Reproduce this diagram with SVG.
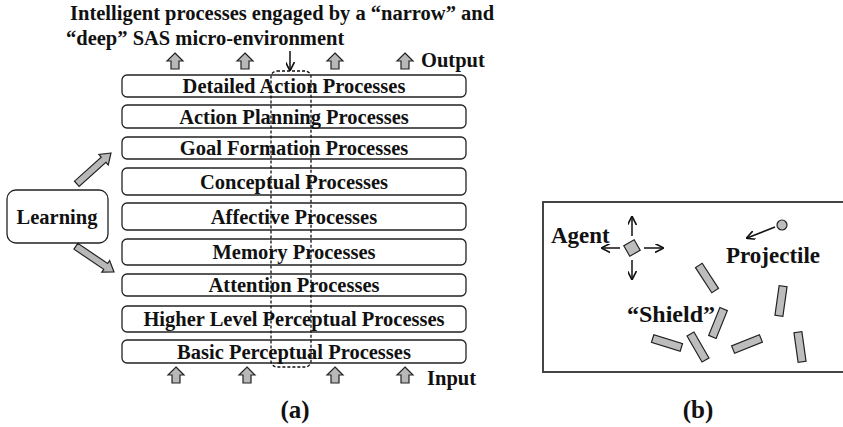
<svg xmlns="http://www.w3.org/2000/svg" width="843" height="427" viewBox="0 0 843 427">
  <defs>
    <style>
      .t { font-family: "Liberation Serif", "Times New Roman", serif; font-weight: bold; fill: #111; }
      .proc rect { fill: #fff; stroke: #222; stroke-width: 1.3; }
      .proc text { font-size: 20.5px; text-anchor: middle; }
      .blk { fill: #b8b8b8; stroke: #222; stroke-width: 1.2; stroke-linejoin: miter; }
      .shield { fill: #bdbdbd; stroke: #222; stroke-width: 1.2; }
      .ln { stroke: #111; stroke-width: 1.5; fill: none; }
    </style>
    <path id="up" d="M0,0 L8,8 L4,8 L4,16 L-4,16 L-4,8 L-8,8 Z"/>
    <path id="diag" d="M0,0 L-10,-7 L-10,-3.5 L-46,-3.5 L-46,3.5 L-10,3.5 L-10,7 Z"/>
    <marker id="ah" viewBox="0 0 10 10" refX="9" refY="5" markerWidth="6" markerHeight="6" orient="auto">
      <path d="M0,0 L10,5 L0,10" fill="none" stroke="#111" stroke-width="1.8"/>
    </marker>
  </defs>

  <rect width="843" height="427" fill="#fff"/>

  <!-- Panel (a): heading -->
  <text class="t" x="70" y="20" font-size="20.5">Intelligent processes engaged by a “narrow” and</text>
  <text class="t" x="66" y="45" font-size="20.5">“deep” SAS micro-environment</text>

  <!-- Processing layers -->
  <g id="detailed-action" class="proc"><rect x="122" y="75" width="344" height="22" rx="5"/><text class="t" x="294" y="93">Detailed Action Processes</text></g>
  <g id="action-planning" class="proc"><rect x="122" y="105" width="344" height="23" rx="5"/><text class="t" x="294" y="124">Action Planning Processes</text></g>
  <g id="goal-formation" class="proc"><rect x="122" y="137" width="344" height="22" rx="5"/><text class="t" x="294" y="155">Goal Formation Processes</text></g>
  <g id="conceptual" class="proc"><rect x="122" y="168" width="344" height="27" rx="5"/><text class="t" x="294" y="189">Conceptual Processes</text></g>
  <g id="affective" class="proc"><rect x="122" y="203" width="344" height="27" rx="5"/><text class="t" x="294" y="224">Affective Processes</text></g>
  <g id="memory" class="proc"><rect x="122" y="239" width="344" height="26" rx="5"/><text class="t" x="294" y="259">Memory Processes</text></g>
  <g id="attention" class="proc"><rect x="122" y="274" width="344" height="22" rx="5"/><text class="t" x="294" y="292">Attention Processes</text></g>
  <g id="higher-perceptual" class="proc"><rect x="122" y="306" width="344" height="26" rx="5"/><text class="t" x="294" y="326">Higher Level Perceptual Processes</text></g>
  <g id="basic-perceptual" class="proc"><rect x="122" y="340" width="344" height="23" rx="5"/><text class="t" x="294" y="359">Basic Perceptual Processes</text></g>

  <!-- Learning -->
  <g id="learning">
    <rect x="7" y="190" width="101" height="53" rx="9" fill="#fff" stroke="#222" stroke-width="1.3"/>
    <text class="t" x="57" y="224" font-size="20.5" text-anchor="middle">Learning</text>
  </g>

  <!-- Narrow vertical slice through all layers -->
  <g id="sas-slice">
    <rect x="271" y="71" width="40" height="296" rx="6" fill="none" stroke="#111" stroke-width="1.3" stroke-dasharray="3,2"/>
  </g>

  <!-- Connectors -->
  <g id="connectors">
    <line class="ln" x1="290" y1="51" x2="290" y2="70" marker-end="url(#ah)"/>
    <use href="#diag" class="blk" transform="translate(111,153) rotate(-42)"/>
    <use href="#diag" class="blk" transform="translate(114,272) rotate(34)"/>
    <!-- output arrows -->
    <use href="#up" class="blk" x="175" y="53"/>
    <use href="#up" class="blk" x="245" y="53" stroke-width="2.2"/>
    <use href="#up" class="blk" x="335" y="53"/>
    <use href="#up" class="blk" x="405" y="53"/>
    <!-- input arrows -->
    <use href="#up" class="blk" x="176" y="367"/>
    <use href="#up" class="blk" x="247" y="367"/>
    <use href="#up" class="blk" x="335" y="367"/>
    <use href="#up" class="blk" x="405" y="367"/>
  </g>

  <text class="t" x="421" y="67" font-size="20.5">Output</text>
  <text class="t" x="427" y="385" font-size="20.5">Input</text>
  <text class="t" x="295" y="418" font-size="25" text-anchor="middle">(a)</text>

  <!-- Panel (b): SAS micro-environment -->
  <g id="environment">
    <rect x="543" y="202" width="302" height="170" fill="#fff" stroke="#444" stroke-width="2"/>
  </g>

  <g id="agent">
    <text class="t" x="551" y="243" font-size="23">Agent</text>
    <rect x="626" y="242" width="12" height="12" transform="rotate(-30 632 248)" class="shield"/>
    <line class="ln" x1="632" y1="236" x2="632" y2="217" marker-end="url(#ah)"/>
    <line class="ln" x1="632" y1="260" x2="632" y2="279" marker-end="url(#ah)"/>
    <line class="ln" x1="620" y1="248" x2="602" y2="248" marker-end="url(#ah)"/>
    <line class="ln" x1="644" y1="248" x2="663" y2="248" marker-end="url(#ah)"/>
  </g>

  <g id="projectile">
    <circle cx="782" cy="225" r="5" class="shield"/>
    <line class="ln" x1="775" y1="227" x2="747" y2="238" marker-end="url(#ah)"/>
    <text class="t" x="726" y="263" font-size="23">Projectile</text>
  </g>

  <g id="shield">
    <text class="t" x="627" y="322" font-size="24">“Shield”</text>
    <rect class="shield" x="-4" y="-15" width="8" height="30" transform="translate(707,278) rotate(-33)"/>
    <rect class="shield" x="-4" y="-15" width="8" height="30" transform="translate(718,323) rotate(22)"/>
    <rect class="shield" x="-4" y="-15" width="8" height="30" transform="translate(781,301) rotate(8)"/>
    <rect class="shield" x="-15" y="-4" width="30" height="8" transform="translate(667,343) rotate(17)"/>
    <rect class="shield" x="-4" y="-15" width="8" height="30" transform="translate(698,347) rotate(-30)"/>
    <rect class="shield" x="-15" y="-4" width="30" height="8" transform="translate(747,344) rotate(-22)"/>
    <rect class="shield" x="-4" y="-15" width="8" height="30" transform="translate(800,347) rotate(-8)"/>
  </g>

  <text class="t" x="698" y="418" font-size="25" text-anchor="middle">(b)</text>
</svg>
